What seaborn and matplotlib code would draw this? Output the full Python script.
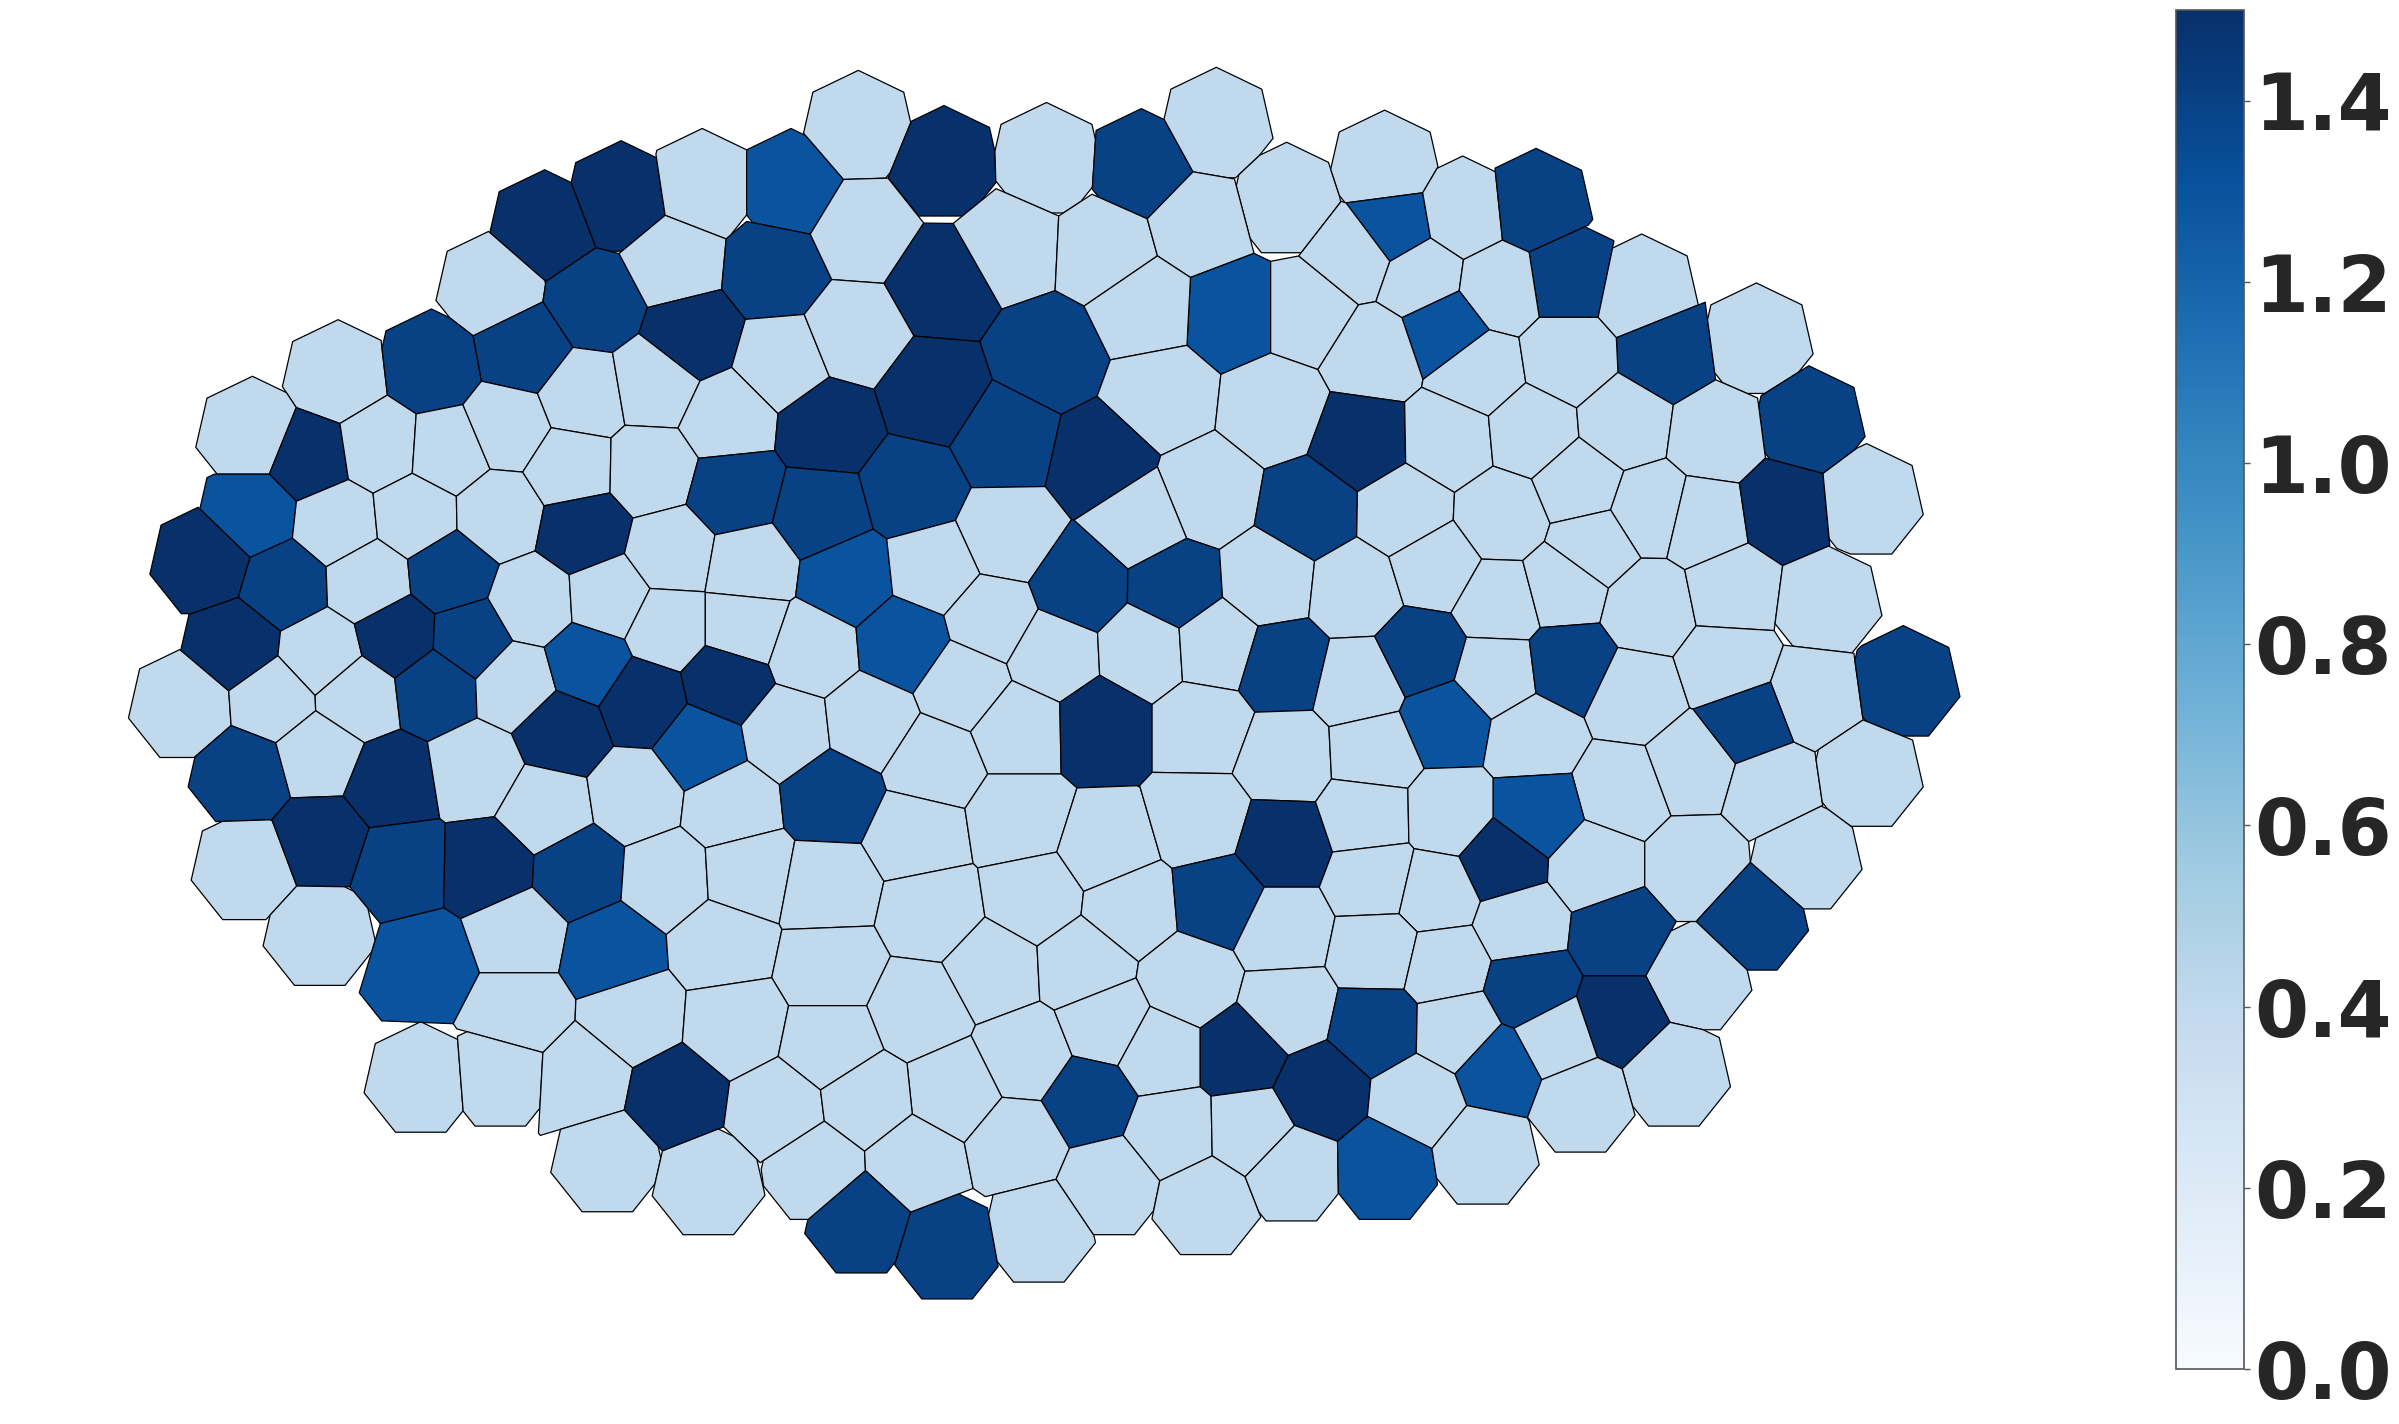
import numpy as np
import matplotlib
matplotlib.use("Agg")
import matplotlib.pyplot as plt
import seaborn as sns
from matplotlib.collections import PolyCollection
from matplotlib.ticker import FormatStrFormatter

# cell centres (image pixel space, y downwards) and the value of each cell
cell_x = [
    356, 406, 459, 517, 561, 617, 684, 746, 795, 841, 905, 910, 956, 1004, 1025, 1073, 1089, 1148, 1182,
    322, 389, 440, 506, 563, 616, 660, 722, 784, 806, 855, 886, 929, 980, 945,
    221, 282, 342, 452, 511, 558, 610, 685, 748, 759, 833, 898, 966, 1025,
    165, 202, 248, 293, 331, 381, 428, 475, 541, 657, 720, 890, 947, 1001, 1062, 1121,
    165, 220, 271, 326, 373, 425, 480, 536, 596, 658, 789, 745, 856, 918, 982, 1032, 1079, 1113, 1167, 1220,
    135, 186, 241, 294, 348, 381, 398, 439, 490, 554, 610, 706, 768, 829, 886, 938, 980, 1022, 1041, 1078, 1132, 1193,
    121, 154, 210, 260, 307, 436, 486, 530, 591, 648, 630, 688, 748, 795, 838, 889, 929, 978, 1026, 1068, 1129, 1186, 1244,
    179, 233, 285, 337, 384, 420, 475, 458, 367, 514, 568, 610, 666, 720, 786, 840, 899, 945, 1002, 1060, 1106, 1142, 1158, 1220,
    160, 208, 255, 311, 356, 416, 477, 544, 599, 666, 723, 785, 838, 894, 947, 1005, 982, 1042, 1108, 1180,
    162, 210, 262, 319, 378, 436, 488, 541, 609, 676, 739, 797, 838, 899, 938, 994, 1058, 1145, 1108,
    209, 278, 338, 400, 472, 543, 649, 708, 778, 841, 601, 901, 944, 1000, 1058,
    338, 414, 480, 543, 624, 670, 723, 758, 811, 900, 952, 1017, 1094, 980,
    275, 327, 381, 441, 509, 566, 712, 766, 818, 863, 927, 1033,
    397, 463, 533, 598, 665, 725, 788, 844, 905, 969, 563, 619, 679,
]
cell_y = [
    149, 130, 122, 122, 84, 107, 105, 109, 82, 131, 110, 148, 140, 135, 181, 191, 231, 223, 277,
    188, 198, 171, 177, 150, 185, 160, 163, 146, 204, 204, 166, 181, 188, 215,
    247, 240, 229, 220, 237, 218, 257, 232, 201, 259, 267, 231, 243, 234,
    284, 299, 292, 295, 279, 259, 251, 273, 279, 287, 301, 288, 287, 282, 277, 285,
    336, 342, 337, 336, 306, 307, 322, 336, 320, 350, 322, 340, 334, 335, 338, 317, 333, 341, 333, 328,
    367, 382, 380, 375, 394, 347, 391, 361, 370, 378, 372, 383, 384, 380, 386, 370, 394, 383, 357, 397, 386, 394,
    461, 422, 428, 416, 418, 410, 410, 425, 420, 405, 447, 428, 425, 422, 435, 447, 427, 441, 435, 455, 435, 455, 447,
    457, 455, 449, 447, 434, 458, 446, 488, 478, 478, 472, 499, 476, 475, 475, 495, 492, 472, 482, 517, 500, 472, 515, 506,
    506, 493, 512, 503, 529, 520, 527, 520, 546, 536, 554, 536, 552, 533, 532, 532, 563, 566, 566, 560,
    567, 549, 566, 567, 570, 574, 571, 581, 596, 586, 593, 588, 608, 575, 584, 604, 611, 600, 639,
    610, 631, 610, 622, 617, 632, 634, 631, 642, 659, 660, 621, 631, 646, 665,
    662, 665, 670, 683, 713, 690, 669, 688, 688, 672, 673, 679, 702, 699,
    706, 702, 705, 717, 726, 719, 719, 740, 739, 713, 719, 719,
    758, 773, 763, 760, 747, 773, 786, 764, 763, 753, 798, 815, 804,
]
cell_val = [
    1.5, 1.5, 0.4, 1.3, 0.4, 1.5, 0.4, 1.4, 0.4, 0.4, 0.4, 1.3, 0.4, 1.4, 1.4, 0.4, 1.4, 0.4, 1.4,
    0.4, 1.4, 0.4, 1.4, 0.4, 1.5, 0.4, 0.4, 0.4, 1.3, 0.4, 0.4, 0.4, 0.4, 1.3,
    0.4, 1.4, 1.4, 1.5, 0.4, 0.4, 1.5, 1.4, 0.4, 0.4, 0.4, 0.4, 0.4, 0.4,
    0.4, 1.5, 0.4, 0.4, 0.4, 0.4, 0.4, 0.4, 1.5, 1.4, 1.5, 1.5, 0.4, 0.4, 0.4, 0.4,
    1.3, 0.4, 0.4, 0.4, 0.4, 0.4, 1.4, 1.4, 1.4, 0.4, 0.4, 0.4, 1.4, 0.4, 0.4, 0.4, 0.4, 0.4, 1.5, 0.4,
    1.5, 1.4, 0.4, 1.4, 0.4, 1.5, 0.4, 0.4, 0.4, 1.3, 0.4, 1.4, 1.4, 0.4, 0.4, 0.4, 0.4, 0.4, 0.4, 0.4, 0.4, 0.4,
    0.4, 1.5, 0.4, 1.5, 1.4, 0.4, 0.4, 0.4, 1.3, 0.4, 0.4, 0.4, 0.4, 0.4, 1.4, 0.4, 1.4, 0.4, 1.4, 0.4, 0.4, 0.4, 1.4,
    0.4, 0.4, 1.4, 0.4, 1.3, 1.5, 1.5, 1.3, 1.5, 0.4, 0.4, 0.4, 0.4, 1.5, 0.4, 0.4, 0.4, 1.3, 0.4, 0.4, 0.4, 1.4, 0.4, 0.4,
    1.4, 0.4, 1.5, 0.4, 0.4, 0.4, 0.4, 1.4, 0.4, 0.4, 0.4, 0.4, 1.5, 0.4, 0.4, 1.3, 1.5, 0.4, 0.4, 0.4,
    0.4, 1.5, 1.4, 1.5, 1.4, 0.4, 0.4, 0.4, 0.4, 0.4, 0.4, 1.4, 0.4, 0.4, 0.4, 0.4, 1.4, 1.4, 0.4,
    0.4, 1.3, 0.4, 1.3, 0.4, 0.4, 0.4, 0.4, 0.4, 0.4, 0.4, 0.4, 0.4, 1.4, 1.5,
    0.4, 0.4, 0.4, 0.4, 0.4, 0.4, 0.4, 0.4, 1.5, 1.4, 0.4, 0.4, 0.4, 1.3,
    0.4, 0.4, 0.4, 1.5, 0.4, 0.4, 1.4, 0.4, 0.4, 1.5, 0.4, 0.4,
    0.4, 0.4, 0.4, 0.4, 0.4, 0.4, 0.4, 0.4, 1.3, 0.4, 1.4, 1.4, 0.4,
]
cbar_ticks = [0.0, 0.2, 0.4, 0.6, 0.8, 1.0, 1.2, 1.4]


def clip(poly, n, c):
    # keep the part of poly with n.p <= c
    out = []
    k = len(poly)
    for i in range(k):
        p, q = poly[i], poly[(i + 1) % k]
        dp, dq = n @ p - c, n @ q - c
        if dp <= 0:
            out.append(p)
        if dp * dq < 0:
            t = dp / (dp - dq)
            out.append(p + t * (q - p))
    return np.array(out)


# voronoi cells; cells on the rim are bounded by a small 7-gon round their centre
pts = np.column_stack([cell_x, cell_y]).astype(float)
ang = -np.pi / 2 + 2 * np.pi * np.arange(7) / 7
polys = []
for i, p in enumerate(pts):
    d = np.hypot(*(pts - p).T)
    near = np.where((d > 0) & (d < 90))[0]
    a = np.sort(np.arctan2(pts[near, 1] - p[1], pts[near, 0] - p[0]))
    gaps = np.diff(np.concatenate([a, [a[0] + 2 * np.pi]]))
    R = 50 if gaps.max() < np.radians(112) else 38
    poly = p + R * np.column_stack([np.cos(ang), np.sin(ang)])
    for j in np.where((d > 0) & (d < 140))[0]:
        n = pts[j] - p
        poly = clip(poly, n, n @ (p + pts[j]) / 2)
        if len(poly) == 0:
            break
    polys.append(poly)

sns.set_style("white")
cmap = sns.color_palette("Blues", as_cmap=True)

fig = plt.figure(figsize=(23.99, 14.24), dpi=100)
ax = fig.add_axes([0, 0, 1, 1])
pc = PolyCollection(polys, array=np.array(cell_val), cmap=cmap, norm=plt.Normalize(0, 1.5),
                    edgecolors="black", linewidths=0.9)
ax.add_collection(pc)
ax.set_xlim(0, 1568)
ax.set_ylim(931, 0)
ax.axis("off")

cax = fig.add_axes([0.9071, 0.0386, 0.02835, 0.9544])
cb = fig.colorbar(pc, cax=cax, ticks=cbar_ticks)
cb.outline.set_edgecolor("#555555")
cb.outline.set_linewidth(1.2)
cax.yaxis.set_major_formatter(FormatStrFormatter("%.1f"))
cax.tick_params(right=True, length=4, width=1, color="#555555", labelsize=56, pad=3, labelcolor="#262626")
for t in cax.get_yticklabels():
    t.set_fontweight("bold")

fig.savefig("out.png", dpi=100)
